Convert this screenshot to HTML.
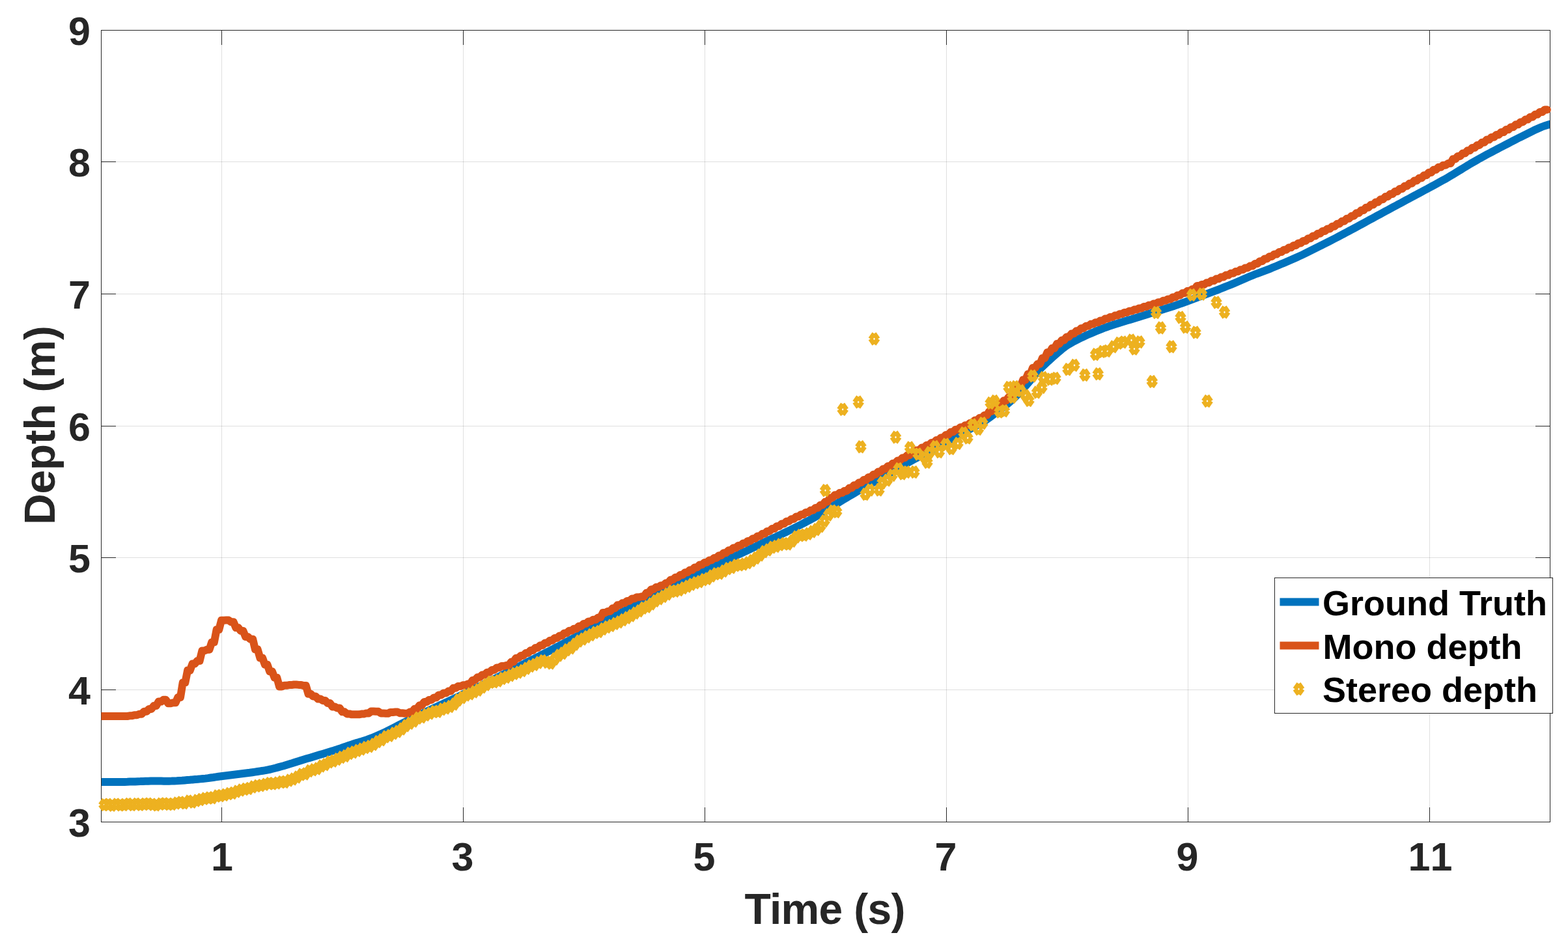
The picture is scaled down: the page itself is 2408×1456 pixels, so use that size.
<!DOCTYPE html>
<html lang="en"><head><meta charset="utf-8"><title>Depth vs Time</title>
<style>html,body{margin:0;padding:0;background:#fff}body{width:2408px;height:1456px;overflow:hidden}svg{display:block}text{font-family:"Liberation Sans",sans-serif;font-weight:700}</style></head><body>
<svg width="2408" height="1456" viewBox="0 0 2408 1456">
<defs><clipPath id="ax"><rect x="155.50" y="46.50" width="2225.00" height="1216.00"/></clipPath>
<path id="d" d="M0 -8.1L5.8 0M5.8 0L0 8.1M0 8.1L-5.8 0M-5.8 0L0 -8.1" fill="none" stroke="#EDB120" stroke-width="7.3"/>
</defs>
<rect width="2408" height="1456" fill="#fff"/>
<g stroke="#262626" stroke-opacity="0.15" stroke-width="1" fill="none" shape-rendering="crispEdges"><path d="M340.50 46.50V1262.50M711.50 46.50V1262.50M1082.50 46.50V1262.50M1453.50 46.50V1262.50M1824.50 46.50V1262.50M2195.50 46.50V1262.50"/><path d="M155.50 1059.50H2380.50M155.50 856.50H2380.50M155.50 654.50H2380.50M155.50 451.50H2380.50M155.50 248.50H2380.50"/></g>
<path d="M151.5 1201.0 L155.5 1201.0 L159.5 1201.0 L163.5 1201.0 L167.5 1201.0 L171.5 1201.0 L175.5 1201.0 L179.5 1201.0 L183.5 1201.0 L187.5 1200.9 L191.5 1200.9 L195.5 1200.8 L199.5 1200.6 L203.5 1200.5 L207.5 1200.4 L211.5 1200.2 L215.5 1200.1 L219.5 1199.9 L223.5 1199.8 L227.5 1199.7 L231.5 1199.5 L235.5 1199.5 L239.5 1199.5 L243.5 1199.5 L247.5 1199.6 L251.5 1199.7 L255.5 1199.7 L259.5 1199.7 L263.5 1199.6 L267.5 1199.4 L271.5 1199.2 L275.5 1198.9 L279.5 1198.7 L283.5 1198.4 L287.5 1198.1 L291.5 1197.8 L295.5 1197.4 L299.5 1197.1 L303.5 1196.8 L307.5 1196.4 L311.5 1196.0 L315.5 1195.6 L319.5 1195.1 L323.5 1194.5 L327.5 1194.0 L331.5 1193.4 L335.5 1192.8 L339.5 1192.3 L343.5 1191.8 L347.5 1191.3 L351.5 1190.8 L355.5 1190.3 L359.5 1189.8 L363.5 1189.3 L367.5 1188.8 L371.5 1188.3 L375.5 1187.8 L379.5 1187.3 L383.5 1186.8 L387.5 1186.2 L391.5 1185.6 L395.5 1185.0 L399.5 1184.4 L403.5 1183.8 L407.5 1183.1 L411.5 1182.3 L415.5 1181.5 L419.5 1180.5 L423.5 1179.5 L427.5 1178.4 L431.5 1177.3 L435.5 1176.2 L439.5 1175.0 L443.5 1173.8 L447.5 1172.6 L451.5 1171.3 L455.5 1170.0 L459.5 1168.8 L463.5 1167.5 L467.5 1166.3 L471.5 1165.1 L475.5 1163.9 L479.5 1162.7 L483.5 1161.5 L487.5 1160.3 L491.5 1159.1 L495.5 1157.9 L499.5 1156.7 L503.5 1155.5 L507.5 1154.3 L511.5 1153.1 L515.5 1151.8 L519.5 1150.4 L523.5 1149.1 L527.5 1147.7 L531.5 1146.3 L535.5 1144.9 L539.5 1143.6 L543.5 1142.3 L547.5 1141.1 L551.5 1139.9 L555.5 1138.8 L559.5 1137.5 L563.5 1136.2 L567.5 1134.7 L571.5 1133.2 L575.5 1131.5 L579.5 1129.8 L583.5 1128.0 L587.5 1126.2 L591.5 1124.3 L595.5 1122.3 L599.5 1120.3 L603.5 1118.3 L607.5 1116.2 L611.5 1114.2 L615.5 1112.2 L619.5 1110.2 L623.5 1108.2 L627.5 1106.2 L631.5 1104.2 L635.5 1102.3 L639.5 1100.3 L643.5 1098.4 L647.5 1096.4 L651.5 1094.5 L655.5 1092.6 L659.5 1090.7 L663.5 1088.8 L667.5 1086.9 L671.5 1085.1 L675.5 1083.2 L679.5 1081.4 L683.5 1079.5 L687.5 1077.6 L691.5 1075.8 L695.5 1073.9 L699.5 1072.0 L703.5 1070.0 L707.5 1068.1 L711.5 1066.2 L715.5 1064.3 L719.5 1062.3 L723.5 1060.4 L727.5 1058.4 L731.5 1056.5 L735.5 1054.5 L739.5 1052.6 L743.5 1050.6 L747.5 1048.7 L751.5 1046.7 L755.5 1044.7 L759.5 1042.6 L763.5 1040.6 L767.5 1038.6 L771.5 1036.5 L775.5 1034.5 L779.5 1032.5 L783.5 1030.4 L787.5 1028.4 L791.5 1026.3 L795.5 1024.3 L799.5 1022.3 L803.5 1020.2 L807.5 1018.2 L811.5 1016.1 L815.5 1014.1 L819.5 1012.1 L823.5 1010.0 L827.5 1008.0 L831.5 1005.9 L835.5 1003.9 L839.5 1001.8 L843.5 999.8 L847.5 997.7 L851.5 995.7 L855.5 993.6 L859.5 991.4 L863.5 989.3 L867.5 987.2 L871.5 985.1 L875.5 983.0 L879.5 980.9 L883.5 978.7 L887.5 976.6 L891.5 974.5 L895.5 972.4 L899.5 970.2 L903.5 968.1 L907.5 965.9 L911.5 963.7 L915.5 961.5 L919.5 959.3 L923.5 957.1 L927.5 955.0 L931.5 952.8 L935.5 950.6 L939.5 948.4 L943.5 946.3 L947.5 944.1 L951.5 942.0 L955.5 940.0 L959.5 938.0 L963.5 936.0 L967.5 934.0 L971.5 932.0 L975.5 929.9 L979.5 927.8 L983.5 925.7 L987.5 923.6 L991.5 921.5 L995.5 919.3 L999.5 917.2 L1003.5 915.0 L1007.5 912.8 L1011.5 910.5 L1015.5 908.3 L1019.5 906.2 L1023.5 904.1 L1027.5 902.1 L1031.5 900.1 L1035.5 898.3 L1039.5 896.4 L1043.5 894.6 L1047.5 892.6 L1051.5 890.6 L1055.5 888.5 L1059.5 886.3 L1063.5 884.1 L1067.5 881.9 L1071.5 879.8 L1075.5 877.8 L1079.5 876.1 L1083.5 874.4 L1087.5 872.9 L1091.5 871.4 L1095.5 869.8 L1099.5 868.1 L1103.5 866.4 L1107.5 864.5 L1111.5 862.5 L1115.5 860.6 L1119.5 858.6 L1123.5 856.7 L1127.5 854.8 L1131.5 852.9 L1135.5 851.1 L1139.5 849.3 L1143.5 847.4 L1147.5 845.6 L1151.5 843.7 L1155.5 841.7 L1159.5 839.8 L1163.5 837.8 L1167.5 835.9 L1171.5 833.9 L1175.5 832.0 L1179.5 830.1 L1183.5 828.3 L1187.5 826.4 L1191.5 824.6 L1195.5 822.7 L1199.5 820.9 L1203.5 818.9 L1207.5 817.0 L1211.5 815.0 L1215.5 813.0 L1219.5 811.0 L1223.5 809.0 L1227.5 807.0 L1231.5 805.0 L1235.5 802.9 L1239.5 800.8 L1243.5 798.7 L1247.5 796.5 L1251.5 794.2 L1255.5 791.8 L1259.5 789.3 L1263.5 786.8 L1267.5 784.3 L1271.5 781.8 L1275.5 779.3 L1279.5 776.8 L1283.5 774.4 L1287.5 772.0 L1291.5 769.6 L1295.5 767.2 L1299.5 764.8 L1303.5 762.4 L1307.5 760.0 L1311.5 757.7 L1315.5 755.4 L1319.5 753.1 L1323.5 750.8 L1327.5 748.5 L1331.5 746.3 L1335.5 744.0 L1339.5 741.7 L1343.5 739.5 L1347.5 737.2 L1351.5 734.9 L1355.5 732.7 L1359.5 730.4 L1363.5 728.1 L1367.5 725.9 L1371.5 723.6 L1375.5 721.4 L1379.5 719.1 L1383.5 716.8 L1387.5 714.6 L1391.5 712.3 L1395.5 710.1 L1399.5 707.8 L1403.5 705.6 L1407.5 703.4 L1411.5 701.2 L1415.5 699.0 L1419.5 696.8 L1423.5 694.6 L1427.5 692.4 L1431.5 690.2 L1435.5 688.0 L1439.5 685.8 L1443.5 683.6 L1447.5 681.4 L1451.5 679.2 L1455.5 677.1 L1459.5 675.0 L1463.5 672.8 L1467.5 670.7 L1471.5 668.6 L1475.5 666.5 L1479.5 664.4 L1483.5 662.2 L1487.5 660.1 L1491.5 658.0 L1495.5 655.9 L1499.5 653.8 L1503.5 651.6 L1507.5 649.4 L1511.5 646.9 L1515.5 644.2 L1519.5 641.3 L1523.5 638.4 L1527.5 635.4 L1531.5 632.4 L1535.5 629.5 L1539.5 626.4 L1543.5 623.3 L1547.5 620.0 L1551.5 616.6 L1555.5 613.0 L1559.5 609.3 L1563.5 605.3 L1567.5 601.1 L1571.5 596.7 L1575.5 592.2 L1579.5 587.5 L1583.5 582.8 L1587.5 578.1 L1591.5 573.4 L1595.5 568.8 L1599.5 564.5 L1603.5 560.6 L1607.5 556.8 L1611.5 553.2 L1615.5 549.6 L1619.5 546.1 L1623.5 542.5 L1627.5 539.1 L1631.5 535.7 L1635.5 532.7 L1639.5 529.9 L1643.5 527.5 L1647.5 525.2 L1651.5 523.1 L1655.5 521.1 L1659.5 519.2 L1663.5 517.3 L1667.5 515.4 L1671.5 513.6 L1675.5 511.9 L1679.5 510.2 L1683.5 508.5 L1687.5 506.9 L1691.5 505.4 L1695.5 503.8 L1699.5 502.3 L1703.5 500.9 L1707.5 499.5 L1711.5 498.2 L1715.5 497.0 L1719.5 495.7 L1723.5 494.5 L1727.5 493.3 L1731.5 492.1 L1735.5 490.9 L1739.5 489.7 L1743.5 488.5 L1747.5 487.3 L1751.5 486.0 L1755.5 484.8 L1759.5 483.5 L1763.5 482.2 L1767.5 480.9 L1771.5 479.7 L1775.5 478.4 L1779.5 477.2 L1783.5 476.0 L1787.5 474.7 L1791.5 473.5 L1795.5 472.3 L1799.5 471.0 L1803.5 469.7 L1807.5 468.3 L1811.5 466.9 L1815.5 465.5 L1819.5 464.1 L1823.5 462.6 L1827.5 461.1 L1831.5 459.6 L1835.5 458.1 L1839.5 456.6 L1843.5 455.1 L1847.5 453.6 L1851.5 452.1 L1855.5 450.6 L1859.5 449.1 L1863.5 447.6 L1867.5 446.1 L1871.5 444.6 L1875.5 443.0 L1879.5 441.4 L1883.5 439.8 L1887.5 438.2 L1891.5 436.6 L1895.5 434.9 L1899.5 433.2 L1903.5 431.5 L1907.5 429.8 L1911.5 428.0 L1915.5 426.3 L1919.5 424.6 L1923.5 422.9 L1927.5 421.3 L1931.5 419.8 L1935.5 418.3 L1939.5 416.8 L1943.5 415.3 L1947.5 413.8 L1951.5 412.3 L1955.5 410.6 L1959.5 409.0 L1963.5 407.3 L1967.5 405.6 L1971.5 403.9 L1975.5 402.2 L1979.5 400.5 L1983.5 398.8 L1987.5 397.0 L1991.5 395.2 L1995.5 393.4 L1999.5 391.6 L2003.5 389.7 L2007.5 387.7 L2011.5 385.7 L2015.5 383.7 L2019.5 381.7 L2023.5 379.7 L2027.5 377.7 L2031.5 375.7 L2035.5 373.7 L2039.5 371.6 L2043.5 369.6 L2047.5 367.5 L2051.5 365.5 L2055.5 363.4 L2059.5 361.2 L2063.5 359.1 L2067.5 357.0 L2071.5 354.9 L2075.5 352.7 L2079.5 350.6 L2083.5 348.4 L2087.5 346.2 L2091.5 344.1 L2095.5 341.9 L2099.5 339.8 L2103.5 337.6 L2107.5 335.4 L2111.5 333.3 L2115.5 331.1 L2119.5 328.9 L2123.5 326.8 L2127.5 324.6 L2131.5 322.5 L2135.5 320.3 L2139.5 318.1 L2143.5 316.0 L2147.5 313.8 L2151.5 311.7 L2155.5 309.5 L2159.5 307.3 L2163.5 305.2 L2167.5 303.0 L2171.5 300.9 L2175.5 298.7 L2179.5 296.6 L2183.5 294.4 L2187.5 292.3 L2191.5 290.2 L2195.5 288.0 L2199.5 285.9 L2203.5 283.7 L2207.5 281.5 L2211.5 279.3 L2215.5 277.1 L2219.5 274.9 L2223.5 272.6 L2227.5 270.2 L2231.5 267.8 L2235.5 265.4 L2239.5 262.9 L2243.5 260.5 L2247.5 258.0 L2251.5 255.6 L2255.5 253.1 L2259.5 250.8 L2263.5 248.5 L2267.5 246.2 L2271.5 243.9 L2275.5 241.7 L2279.5 239.5 L2283.5 237.3 L2287.5 235.2 L2291.5 233.1 L2295.5 231.0 L2299.5 228.9 L2303.5 226.8 L2307.5 224.7 L2311.5 222.7 L2315.5 220.6 L2319.5 218.5 L2323.5 216.4 L2327.5 214.4 L2331.5 212.3 L2335.5 210.3 L2339.5 208.3 L2343.5 206.3 L2347.5 204.3 L2351.5 202.3 L2355.5 200.3 L2359.5 198.5 L2363.5 196.7 L2367.5 195.0 L2371.5 193.5 L2375.5 192.3 L2379.5 191.1 L2383.5 190.0" fill="none" stroke="#0072BD" stroke-width="12" stroke-linejoin="round" clip-path="url(#ax)"/>
<path d="M340.50 1262.50v-22.50M340.50 46.50v22.50M711.50 1262.50v-22.50M711.50 46.50v22.50M1082.50 1262.50v-22.50M1082.50 46.50v22.50M1453.50 1262.50v-22.50M1453.50 46.50v22.50M1824.50 1262.50v-22.50M1824.50 46.50v22.50M2195.50 1262.50v-22.50M2195.50 46.50v22.50M155.50 1059.50h22.50M2380.50 1059.50h-22.50M155.50 856.50h22.50M2380.50 856.50h-22.50M155.50 654.50h22.50M2380.50 654.50h-22.50M155.50 451.50h22.50M2380.50 451.50h-22.50M155.50 248.50h22.50M2380.50 248.50h-22.50" stroke="#262626" stroke-width="1" fill="none" shape-rendering="crispEdges"/>
<rect x="155.50" y="46.50" width="2225.00" height="1216.00" fill="none" stroke="#262626" stroke-width="1" shape-rendering="crispEdges"/>
<clipPath id="ox"><rect x="155.50" y="0" width="2408" height="1456"/></clipPath>
<path d="M154.6 1100.0 L158.3 1100.0 L162.0 1100.0 L165.7 1100.0 L169.4 1100.0 L173.1 1100.0 L176.9 1100.0 L180.6 1100.0 L184.3 1100.0 L188.0 1100.0 L191.7 1100.0 L195.4 1100.0 L199.1 1099.3 L202.8 1099.3 L206.5 1098.2 L210.2 1098.2 L213.9 1096.7 L217.6 1096.7 L221.4 1092.7 L225.1 1092.7 L228.8 1088.9 L232.5 1088.9 L236.2 1084.0 L239.9 1084.0 L243.6 1077.6 L247.3 1077.6 L251.0 1074.8 L254.7 1074.8 L258.4 1080.3 L262.1 1080.3 L265.9 1079.2 L269.6 1079.2 L273.3 1071.1 L277.0 1071.1 L280.7 1048.4 L284.4 1048.4 L288.1 1029.6 L291.8 1029.6 L295.5 1019.5 L299.2 1019.5 L302.9 1015.0 L306.6 1015.0 L310.4 999.4 L314.1 999.4 L317.8 997.7 L321.5 997.7 L325.2 986.5 L328.9 986.5 L332.6 967.0 L336.3 967.0 L340.0 952.7 L343.7 952.7 L347.4 952.6 L351.1 952.6 L354.9 955.2 L358.6 955.2 L362.3 964.1 L366.0 964.1 L369.7 969.0 L373.4 969.0 L377.1 978.1 L380.8 978.1 L384.5 981.7 L388.2 981.7 L391.9 997.3 L395.6 997.3 L399.4 1010.5 L403.1 1010.5 L406.8 1020.8 L410.5 1020.8 L414.2 1031.3 L417.9 1031.3 L421.6 1040.7 L425.3 1040.7 L429.0 1054.4 L432.7 1054.4 L436.4 1052.8 L440.1 1052.8 L443.9 1052.1 L447.6 1052.1 L451.3 1051.5 L455.0 1051.5 L458.7 1051.9 L462.4 1051.9 L466.1 1053.0 L469.8 1053.0 L473.5 1065.7 L477.2 1065.7 L480.9 1069.5 L484.6 1069.5 L488.4 1073.5 L492.1 1073.5 L495.8 1075.9 L499.5 1075.9 L503.2 1080.1 L506.9 1080.1 L510.6 1085.5 L514.3 1085.5 L518.0 1087.6 L521.7 1087.6 L525.4 1093.3 L529.1 1093.3 L532.9 1096.4 L536.6 1096.4 L540.3 1097.3 L544.0 1097.3 L547.7 1097.3 L551.4 1097.3 L555.1 1096.6 L558.8 1096.6 L562.5 1095.4 L566.2 1095.4 L569.9 1092.6 L573.6 1092.6 L577.4 1092.8 L581.1 1092.8 L584.8 1095.4 L588.5 1095.4 L592.2 1095.8 L595.9 1095.8 L599.6 1093.9 L603.3 1093.9 L607.0 1093.6 L610.7 1093.6 L614.4 1095.3 L618.1 1095.3 L621.9 1095.8 L625.6 1095.8 L629.3 1093.6 L633.0 1093.6 L636.7 1088.7 L640.4 1088.7 L644.1 1083.3 L647.8 1083.3 L651.5 1078.0 L655.2 1078.0 L658.9 1075.0 L662.6 1075.0 L666.4 1071.4 L670.1 1071.4 L673.8 1067.4 L677.5 1067.4 L681.2 1064.6 L684.9 1064.6 L688.6 1061.6 L692.3 1061.6 L696.0 1056.8 L699.7 1056.8 L703.4 1054.1 L707.1 1054.1 L710.9 1052.3 L714.6 1052.3 L718.3 1050.6 L722.0 1050.6 L725.7 1044.7 L729.4 1044.7 L733.1 1040.3 L736.8 1040.3 L740.5 1036.5 L744.2 1036.5 L747.9 1032.8 L751.6 1032.8 L755.4 1029.1 L759.1 1029.1 L762.8 1025.4 L766.5 1025.4 L770.2 1023.1 L773.9 1023.1 L777.6 1021.9 L781.3 1021.9 L785.0 1016.6 L788.7 1016.6 L792.4 1010.7 L796.1 1010.7 L799.9 1006.9 L803.6 1006.9 L807.3 1003.1 L811.0 1003.1 L814.7 999.0 L818.4 999.0 L822.1 994.9 L825.8 994.9 L829.5 991.3 L833.2 991.3 L836.9 987.6 L840.6 987.6 L844.4 983.8 L848.1 983.8 L851.8 980.1 L855.5 980.1 L859.2 976.4 L862.9 976.4 L866.6 972.4 L870.3 972.4 L874.0 968.8 L877.7 968.8 L881.4 965.7 L885.1 965.7 L888.9 961.8 L892.6 961.8 L896.3 958.0 L900.0 958.0 L903.7 954.4 L907.4 954.4 L911.1 951.7 L914.8 951.7 L918.5 948.4 L922.2 948.4 L925.9 941.1 L929.6 941.1 L933.4 938.9 L937.1 938.9 L940.8 934.2 L944.5 934.2 L948.2 929.3 L951.9 929.3 L955.6 926.3 L959.3 926.3 L963.0 923.0 L966.7 923.0 L970.4 919.5 L974.1 919.5 L977.9 917.3 L981.6 917.3 L985.3 916.3 L989.0 916.3 L992.7 910.6 L996.4 910.6 L1000.1 905.2 L1003.8 905.2 L1007.5 901.8 L1011.2 901.8 L1014.9 899.2 L1018.6 899.2 L1022.4 895.6 L1026.1 895.6 L1029.8 890.4 L1033.5 890.4 L1037.2 886.7 L1040.9 886.7 L1044.6 883.0 L1048.3 883.0 L1052.0 879.3 L1055.7 879.3 L1059.4 875.5 L1063.1 875.5 L1066.9 871.5 L1070.6 871.5 L1074.3 867.5 L1078.0 867.5 L1081.7 864.0 L1085.4 864.0 L1089.1 860.5 L1092.8 860.5 L1096.5 857.0 L1100.2 857.0 L1103.9 853.2 L1107.6 853.2 L1111.4 849.2 L1115.1 849.2 L1118.8 845.3 L1122.5 845.3 L1126.2 841.6 L1129.9 841.6 L1133.6 838.0 L1137.3 838.0 L1141.0 834.5 L1144.7 834.5 L1148.4 830.9 L1152.1 830.9 L1155.9 827.2 L1159.6 827.2 L1163.3 823.5 L1167.0 823.5 L1170.7 819.8 L1174.4 819.8 L1178.1 815.9 L1181.8 815.9 L1185.5 812.1 L1189.2 812.1 L1192.9 808.2 L1196.6 808.2 L1200.4 804.5 L1204.1 804.5 L1207.8 800.8 L1211.5 800.8 L1215.2 797.2 L1218.9 797.2 L1222.6 793.6 L1226.3 793.6 L1230.0 790.3 L1233.7 790.3 L1237.4 787.0 L1241.1 787.0 L1244.9 783.7 L1248.6 783.7 L1252.3 779.9 L1256.0 779.9 L1259.7 775.8 L1263.4 775.8 L1267.1 770.7 L1270.8 770.7 L1274.5 764.7 L1278.2 764.7 L1281.9 760.3 L1285.6 760.3 L1289.4 757.1 L1293.1 757.1 L1296.8 753.9 L1300.5 753.9 L1304.2 749.6 L1307.9 749.6 L1311.6 745.2 L1315.3 745.2 L1319.0 741.2 L1322.7 741.2 L1326.4 737.1 L1330.1 737.1 L1333.9 732.9 L1337.6 732.9 L1341.3 728.7 L1345.0 728.7 L1348.7 724.4 L1352.4 724.4 L1356.1 720.2 L1359.8 720.2 L1363.5 715.9 L1367.2 715.9 L1370.9 711.7 L1374.6 711.7 L1378.4 707.4 L1382.1 707.4 L1385.8 703.2 L1389.5 703.2 L1393.2 699.3 L1396.9 699.3 L1400.6 695.3 L1404.3 695.3 L1408.0 691.4 L1411.7 691.4 L1415.4 687.6 L1419.1 687.6 L1422.9 683.7 L1426.6 683.7 L1430.3 679.9 L1434.0 679.9 L1437.7 676.1 L1441.4 676.1 L1445.1 672.2 L1448.8 672.2 L1452.5 668.0 L1456.2 668.0 L1459.9 663.6 L1463.6 663.6 L1467.4 659.8 L1471.1 659.8 L1474.8 656.2 L1478.5 656.2 L1482.2 653.3 L1485.9 653.3 L1489.6 649.7 L1493.3 649.7 L1497.0 645.5 L1500.7 645.5 L1504.4 641.8 L1508.1 641.8 L1511.9 637.7 L1515.6 637.7 L1519.3 631.8 L1523.0 631.8 L1526.7 625.9 L1530.4 625.9 L1534.1 619.9 L1537.8 619.9 L1541.5 615.2 L1545.2 615.2 L1548.9 610.0 L1552.6 610.0 L1556.4 601.2 L1560.1 601.2 L1563.8 592.3 L1567.5 592.3 L1571.2 583.3 L1574.9 583.3 L1578.6 574.5 L1582.3 574.5 L1586.0 565.0 L1589.7 565.0 L1593.4 559.0 L1597.1 559.0 L1600.9 549.9 L1604.6 549.9 L1608.3 541.3 L1612.0 541.3 L1615.7 534.8 L1619.4 534.8 L1623.1 528.1 L1626.8 528.1 L1630.5 522.6 L1634.2 522.6 L1637.9 517.4 L1641.6 517.4 L1645.4 512.6 L1649.1 512.6 L1652.8 508.3 L1656.5 508.3 L1660.2 504.2 L1663.9 504.2 L1667.6 500.8 L1671.3 500.8 L1675.0 497.8 L1678.7 497.8 L1682.4 495.2 L1686.2 495.2 L1689.9 492.4 L1693.6 492.4 L1697.3 489.5 L1701.0 489.5 L1704.7 487.1 L1708.4 487.1 L1712.1 484.6 L1715.8 484.6 L1719.5 482.2 L1723.2 482.2 L1726.9 479.9 L1730.7 479.9 L1734.4 477.7 L1738.1 477.7 L1741.8 475.6 L1745.5 475.6 L1749.2 473.4 L1752.9 473.4 L1756.6 471.1 L1760.3 471.1 L1764.0 468.8 L1767.7 468.8 L1771.4 466.5 L1775.2 466.5 L1778.9 464.2 L1782.6 464.2 L1786.3 461.8 L1790.0 461.8 L1793.7 459.4 L1797.4 459.4 L1801.1 456.6 L1804.8 456.6 L1808.5 453.4 L1812.2 453.4 L1815.9 450.2 L1819.7 450.2 L1823.4 447.1 L1827.1 447.1 L1830.8 444.3 L1834.5 444.3 L1838.2 439.1 L1841.9 439.1 L1845.6 437.0 L1849.3 437.0 L1853.0 434.2 L1856.7 434.2 L1860.4 431.2 L1864.2 431.2 L1867.9 428.3 L1871.6 428.3 L1875.3 425.4 L1879.0 425.4 L1882.7 422.6 L1886.4 422.6 L1890.1 419.8 L1893.8 419.8 L1897.5 417.1 L1901.2 417.1 L1904.9 414.2 L1908.7 414.2 L1912.4 411.4 L1916.1 411.4 L1919.8 408.5 L1923.5 408.5 L1927.2 405.1 L1930.9 405.1 L1934.6 401.3 L1938.3 401.3 L1942.0 397.6 L1945.7 397.6 L1949.4 393.9 L1953.2 393.9 L1956.9 390.5 L1960.6 390.5 L1964.3 387.1 L1968.0 387.1 L1971.7 383.7 L1975.4 383.7 L1979.1 380.3 L1982.8 380.3 L1986.5 376.9 L1990.2 376.9 L1993.9 373.5 L1997.7 373.5 L2001.4 369.9 L2005.1 369.9 L2008.8 366.2 L2012.5 366.2 L2016.2 362.5 L2019.9 362.5 L2023.6 358.8 L2027.3 358.8 L2031.0 355.1 L2034.7 355.1 L2038.4 351.4 L2042.2 351.4 L2045.9 347.7 L2049.6 347.7 L2053.3 343.8 L2057.0 343.8 L2060.7 339.8 L2064.4 339.8 L2068.1 335.7 L2071.8 335.7 L2075.5 331.7 L2079.2 331.7 L2082.9 327.3 L2086.7 327.3 L2090.4 323.0 L2094.1 323.0 L2097.8 318.7 L2101.5 318.7 L2105.2 314.6 L2108.9 314.6 L2112.6 310.4 L2116.3 310.4 L2120.0 306.3 L2123.7 306.3 L2127.4 302.1 L2131.2 302.1 L2134.9 298.0 L2138.6 298.0 L2142.3 293.9 L2146.0 293.9 L2149.7 289.9 L2153.4 289.9 L2157.1 285.8 L2160.8 285.8 L2164.5 281.7 L2168.2 281.7 L2171.9 277.6 L2175.7 277.6 L2179.4 273.5 L2183.1 273.5 L2186.8 269.3 L2190.5 269.3 L2194.2 265.0 L2197.9 265.0 L2201.6 260.7 L2205.3 260.7 L2209.0 256.8 L2212.7 256.8 L2216.4 253.7 L2220.2 253.7 L2223.9 251.0 L2227.6 251.0 L2231.3 244.3 L2235.0 244.3 L2238.7 239.9 L2242.4 239.9 L2246.1 235.6 L2249.8 235.6 L2253.5 231.3 L2257.2 231.3 L2260.9 227.0 L2264.7 227.0 L2268.4 222.9 L2272.1 222.9 L2275.8 218.7 L2279.5 218.7 L2283.2 214.6 L2286.9 214.6 L2290.6 210.7 L2294.3 210.7 L2298.0 206.9 L2301.7 206.9 L2305.4 203.0 L2309.2 203.0 L2312.9 199.1 L2316.6 199.1 L2320.3 195.2 L2324.0 195.2 L2327.7 191.3 L2331.4 191.3 L2335.1 187.4 L2338.8 187.4 L2342.5 183.6 L2346.2 183.6 L2349.9 179.7 L2353.7 179.7 L2357.4 175.8 L2361.1 175.8 L2364.8 171.9 L2368.5 171.9 L2372.2 168.6 L2375.9 168.6" fill="none" stroke="#D95319" stroke-width="12" stroke-linejoin="round" stroke-linecap="round" clip-path="url(#ox)"/>
<g><use href="#d" x="160.0" y="1236.1"/><use href="#d" x="166.2" y="1235.7"/><use href="#d" x="172.4" y="1236.7"/><use href="#d" x="178.5" y="1235.4"/><use href="#d" x="184.7" y="1236.3"/><use href="#d" x="190.9" y="1235.9"/><use href="#d" x="197.1" y="1235.1"/><use href="#d" x="203.3" y="1236.0"/><use href="#d" x="209.4" y="1234.9"/><use href="#d" x="215.6" y="1235.7"/><use href="#d" x="221.8" y="1234.9"/><use href="#d" x="228.0" y="1234.8"/><use href="#d" x="234.2" y="1235.5"/><use href="#d" x="240.3" y="1236.3"/><use href="#d" x="246.5" y="1234.7"/><use href="#d" x="252.7" y="1234.6"/><use href="#d" x="258.9" y="1234.9"/><use href="#d" x="265.1" y="1235.0"/><use href="#d" x="271.2" y="1233.5"/><use href="#d" x="277.4" y="1232.5"/><use href="#d" x="283.6" y="1233.2"/><use href="#d" x="289.8" y="1230.5"/><use href="#d" x="296.0" y="1231.7"/><use href="#d" x="302.1" y="1229.6"/><use href="#d" x="308.3" y="1227.9"/><use href="#d" x="314.5" y="1226.4"/><use href="#d" x="320.7" y="1225.5"/><use href="#d" x="326.9" y="1225.2"/><use href="#d" x="333.0" y="1222.5"/><use href="#d" x="339.2" y="1222.0"/><use href="#d" x="345.4" y="1220.8"/><use href="#d" x="351.6" y="1218.9"/><use href="#d" x="357.8" y="1217.9"/><use href="#d" x="363.9" y="1215.6"/><use href="#d" x="370.1" y="1213.6"/><use href="#d" x="376.3" y="1211.9"/><use href="#d" x="382.5" y="1211.0"/><use href="#d" x="388.7" y="1208.4"/><use href="#d" x="394.8" y="1206.9"/><use href="#d" x="401.0" y="1206.3"/><use href="#d" x="407.2" y="1204.8"/><use href="#d" x="413.4" y="1203.2"/><use href="#d" x="419.6" y="1203.5"/><use href="#d" x="425.7" y="1202.6"/><use href="#d" x="431.9" y="1200.9"/><use href="#d" x="438.1" y="1200.9"/><use href="#d" x="444.3" y="1198.6"/><use href="#d" x="450.5" y="1196.5"/><use href="#d" x="456.6" y="1193.4"/><use href="#d" x="462.8" y="1189.5"/><use href="#d" x="469.0" y="1188.5"/><use href="#d" x="475.2" y="1184.1"/><use href="#d" x="481.4" y="1182.3"/><use href="#d" x="487.5" y="1180.5"/><use href="#d" x="493.7" y="1176.4"/><use href="#d" x="499.9" y="1174.2"/><use href="#d" x="506.1" y="1170.3"/><use href="#d" x="512.3" y="1168.7"/><use href="#d" x="518.4" y="1166.1"/><use href="#d" x="524.6" y="1162.9"/><use href="#d" x="530.8" y="1160.9"/><use href="#d" x="537.0" y="1156.9"/><use href="#d" x="543.2" y="1155.3"/><use href="#d" x="549.3" y="1152.8"/><use href="#d" x="555.5" y="1150.6"/><use href="#d" x="561.7" y="1148.1"/><use href="#d" x="567.9" y="1146.3"/><use href="#d" x="574.1" y="1143.3"/><use href="#d" x="580.2" y="1139.0"/><use href="#d" x="586.4" y="1136.2"/><use href="#d" x="592.6" y="1131.6"/><use href="#d" x="598.8" y="1129.7"/><use href="#d" x="605.0" y="1126.2"/><use href="#d" x="611.1" y="1123.6"/><use href="#d" x="617.3" y="1119.6"/><use href="#d" x="623.5" y="1114.4"/><use href="#d" x="629.7" y="1110.7"/><use href="#d" x="635.9" y="1107.4"/><use href="#d" x="642.0" y="1102.7"/><use href="#d" x="648.2" y="1101.2"/><use href="#d" x="654.4" y="1098.1"/><use href="#d" x="660.6" y="1095.5"/><use href="#d" x="666.8" y="1093.1"/><use href="#d" x="672.9" y="1092.7"/><use href="#d" x="679.1" y="1089.3"/><use href="#d" x="685.3" y="1087.6"/><use href="#d" x="691.5" y="1084.9"/><use href="#d" x="697.7" y="1081.4"/><use href="#d" x="703.8" y="1075.1"/><use href="#d" x="710.0" y="1071.3"/><use href="#d" x="716.2" y="1067.6"/><use href="#d" x="722.4" y="1065.5"/><use href="#d" x="728.6" y="1062.5"/><use href="#d" x="734.7" y="1059.8"/><use href="#d" x="740.9" y="1055.3"/><use href="#d" x="747.1" y="1051.6"/><use href="#d" x="753.3" y="1047.7"/><use href="#d" x="759.5" y="1047.2"/><use href="#d" x="765.6" y="1045.6"/><use href="#d" x="771.8" y="1042.1"/><use href="#d" x="778.0" y="1039.9"/><use href="#d" x="784.2" y="1037.3"/><use href="#d" x="790.4" y="1034.6"/><use href="#d" x="796.5" y="1032.4"/><use href="#d" x="802.7" y="1029.9"/><use href="#d" x="808.9" y="1026.5"/><use href="#d" x="815.1" y="1023.0"/><use href="#d" x="821.3" y="1020.8"/><use href="#d" x="827.4" y="1017.6"/><use href="#d" x="833.6" y="1015.0"/><use href="#d" x="839.8" y="1017.0"/><use href="#d" x="846.0" y="1018.4"/><use href="#d" x="852.2" y="1011.9"/><use href="#d" x="858.3" y="1006.4"/><use href="#d" x="864.5" y="1003.3"/><use href="#d" x="870.7" y="998.1"/><use href="#d" x="876.9" y="995.2"/><use href="#d" x="883.1" y="989.4"/><use href="#d" x="889.2" y="984.5"/><use href="#d" x="895.4" y="981.6"/><use href="#d" x="901.6" y="977.9"/><use href="#d" x="907.8" y="975.1"/><use href="#d" x="914.0" y="971.6"/><use href="#d" x="920.1" y="970.0"/><use href="#d" x="926.3" y="965.9"/><use href="#d" x="932.5" y="963.1"/><use href="#d" x="938.7" y="960.7"/><use href="#d" x="944.9" y="957.8"/><use href="#d" x="951.0" y="955.3"/><use href="#d" x="957.2" y="951.9"/><use href="#d" x="963.4" y="948.8"/><use href="#d" x="969.6" y="945.4"/><use href="#d" x="975.8" y="941.5"/><use href="#d" x="981.9" y="938.3"/><use href="#d" x="988.1" y="933.7"/><use href="#d" x="994.3" y="931.8"/><use href="#d" x="1000.5" y="927.5"/><use href="#d" x="1006.7" y="922.8"/><use href="#d" x="1012.8" y="919.4"/><use href="#d" x="1019.0" y="916.0"/><use href="#d" x="1025.2" y="912.5"/><use href="#d" x="1031.4" y="908.3"/><use href="#d" x="1037.6" y="907.7"/><use href="#d" x="1043.7" y="906.1"/><use href="#d" x="1049.9" y="903.0"/><use href="#d" x="1056.1" y="900.6"/><use href="#d" x="1062.3" y="897.4"/><use href="#d" x="1068.5" y="895.1"/><use href="#d" x="1074.6" y="893.3"/><use href="#d" x="1080.8" y="890.3"/><use href="#d" x="1087.0" y="888.7"/><use href="#d" x="1093.2" y="884.4"/><use href="#d" x="1099.4" y="881.2"/><use href="#d" x="1105.5" y="880.6"/><use href="#d" x="1111.7" y="876.9"/><use href="#d" x="1117.9" y="873.3"/><use href="#d" x="1124.1" y="871.5"/><use href="#d" x="1130.3" y="868.3"/><use href="#d" x="1136.4" y="867.5"/><use href="#d" x="1142.6" y="866.5"/><use href="#d" x="1148.8" y="864.3"/><use href="#d" x="1155.0" y="861.1"/><use href="#d" x="1161.2" y="857.0"/><use href="#d" x="1167.3" y="852.6"/><use href="#d" x="1173.5" y="847.2"/><use href="#d" x="1179.7" y="844.6"/><use href="#d" x="1185.9" y="840.5"/><use href="#d" x="1192.1" y="839.0"/><use href="#d" x="1198.2" y="836.4"/><use href="#d" x="1204.4" y="835.1"/><use href="#d" x="1210.6" y="835.5"/><use href="#d" x="1216.8" y="830.9"/><use href="#d" x="1223.0" y="824.4"/><use href="#d" x="1229.1" y="822.3"/><use href="#d" x="1235.3" y="821.8"/><use href="#d" x="1241.5" y="819.8"/><use href="#d" x="1247.7" y="816.5"/><use href="#d" x="1253.9" y="813.2"/><use href="#d" x="1260.0" y="808.3"/><use href="#d" x="1266.2" y="799.9"/><use href="#d" x="1272.4" y="790.8"/><use href="#d" x="1278.6" y="784.8"/><use href="#d" x="1284.8" y="785.9"/><use href="#d" x="1342.5" y="520.5"/><use href="#d" x="1318.2" y="617.5"/><use href="#d" x="1294.2" y="628.8"/><use href="#d" x="1322.0" y="686.2"/><use href="#d" x="1375.5" y="671.5"/><use href="#d" x="1267.5" y="753.2"/><use href="#d" x="1397.5" y="687.5"/><use href="#d" x="1329.0" y="759.0"/><use href="#d" x="1336.0" y="752.5"/><use href="#d" x="1350.0" y="752.5"/><use href="#d" x="1355.0" y="741.0"/><use href="#d" x="1362.5" y="737.5"/><use href="#d" x="1370.0" y="730.0"/><use href="#d" x="1380.0" y="720.0"/><use href="#d" x="1386.0" y="727.5"/><use href="#d" x="1392.5" y="725.0"/><use href="#d" x="1404.0" y="725.0"/><use href="#d" x="1410.0" y="697.5"/><use href="#d" x="1420.0" y="702.5"/><use href="#d" x="1424.0" y="710.0"/><use href="#d" x="1427.5" y="695.0"/><use href="#d" x="1436.0" y="686.0"/><use href="#d" x="1442.5" y="694.0"/><use href="#d" x="1452.5" y="682.5"/><use href="#d" x="1461.0" y="689.0"/><use href="#d" x="1471.0" y="681.0"/><use href="#d" x="1480.0" y="665.0"/><use href="#d" x="1486.0" y="672.5"/><use href="#d" x="1494.0" y="652.5"/><use href="#d" x="1502.5" y="659.0"/><use href="#d" x="1509.0" y="650.0"/><use href="#d" x="1521.0" y="619.0"/><use href="#d" x="1527.5" y="616.0"/><use href="#d" x="1535.0" y="632.5"/><use href="#d" x="1542.5" y="631.0"/><use href="#d" x="1549.0" y="595.0"/><use href="#d" x="1555.0" y="610.0"/><use href="#d" x="1559.0" y="594.0"/><use href="#d" x="1567.5" y="600.0"/><use href="#d" x="1575.0" y="607.5"/><use href="#d" x="1580.0" y="615.0"/><use href="#d" x="1586.0" y="577.5"/><use href="#d" x="1592.5" y="602.5"/><use href="#d" x="1600.0" y="595.0"/><use href="#d" x="1602.5" y="580.0"/><use href="#d" x="1612.5" y="582.5"/><use href="#d" x="1621.0" y="581.0"/><use href="#d" x="1640.0" y="567.2"/><use href="#d" x="1650.0" y="561.0"/><use href="#d" x="1666.0" y="576.0"/><use href="#d" x="1686.3" y="574.3"/><use href="#d" x="1682.5" y="544.3"/><use href="#d" x="1692.5" y="540.0"/><use href="#d" x="1700.5" y="539.0"/><use href="#d" x="1710.0" y="532.5"/><use href="#d" x="1718.0" y="527.0"/><use href="#d" x="1725.0" y="525.5"/><use href="#d" x="1737.5" y="522.5"/><use href="#d" x="1750.0" y="525.3"/><use href="#d" x="1742.0" y="535.8"/><use href="#d" x="1769.3" y="586.0"/><use href="#d" x="1775.5" y="480.0"/><use href="#d" x="1782.5" y="503.5"/><use href="#d" x="1799.0" y="532.5"/><use href="#d" x="1813.0" y="487.5"/><use href="#d" x="1820.5" y="502.5"/><use href="#d" x="1836.0" y="510.5"/><use href="#d" x="1830.5" y="453.0"/><use href="#d" x="1845.5" y="451.8"/><use href="#d" x="1868.0" y="464.5"/><use href="#d" x="1880.5" y="479.5"/><use href="#d" x="1854.0" y="616.0"/></g>
<g font-size="61" fill="#262626" style="font-kerning:none">
<text x="139" y="1284.8" text-anchor="end">3</text>
<text x="139" y="1081.8" text-anchor="end">4</text>
<text x="139" y="878.8" text-anchor="end">5</text>
<text x="139" y="676.8" text-anchor="end">6</text>
<text x="139" y="473.8" text-anchor="end">7</text>
<text x="139" y="270.8" text-anchor="end">8</text>
<text x="139" y="68.8" text-anchor="end">9</text>
<text x="340.9" y="1337" text-anchor="middle">1</text>
<text x="710.5" y="1337" text-anchor="middle">3</text>
<text x="1081.5" y="1337" text-anchor="middle">5</text>
<text x="1452.5" y="1337" text-anchor="middle">7</text>
<text x="1823.5" y="1337" text-anchor="middle">9</text>
<text x="2196.4" y="1337" text-anchor="middle">11</text>
</g>
<text x="1266.6" y="1418.6" font-size="66" letter-spacing="-0.7" fill="#262626" text-anchor="middle">Time (s)</text>
<text transform="translate(83.5 653.3) rotate(-90)" font-size="66" letter-spacing="-0.3" fill="#262626" text-anchor="middle">Depth (m)</text>
<rect x="1957.5" y="887.5" width="427" height="208" fill="#fff" stroke="#262626" stroke-width="1" shape-rendering="crispEdges"/>
<path d="M1965.5 924.4H2025.5" stroke="#0072BD" stroke-width="12" fill="none"/>
<path d="M1965.5 991.4H2025.5" stroke="#D95319" stroke-width="12" fill="none"/>
<use href="#d" x="1994.5" y="1058.3"/>
<g font-size="54" fill="#000"><text x="2031" y="944.7">Ground Truth</text><text x="2031.5" y="1011.6">Mono depth</text><text x="2031" y="1078">Stereo depth</text></g>
</svg></body></html>
